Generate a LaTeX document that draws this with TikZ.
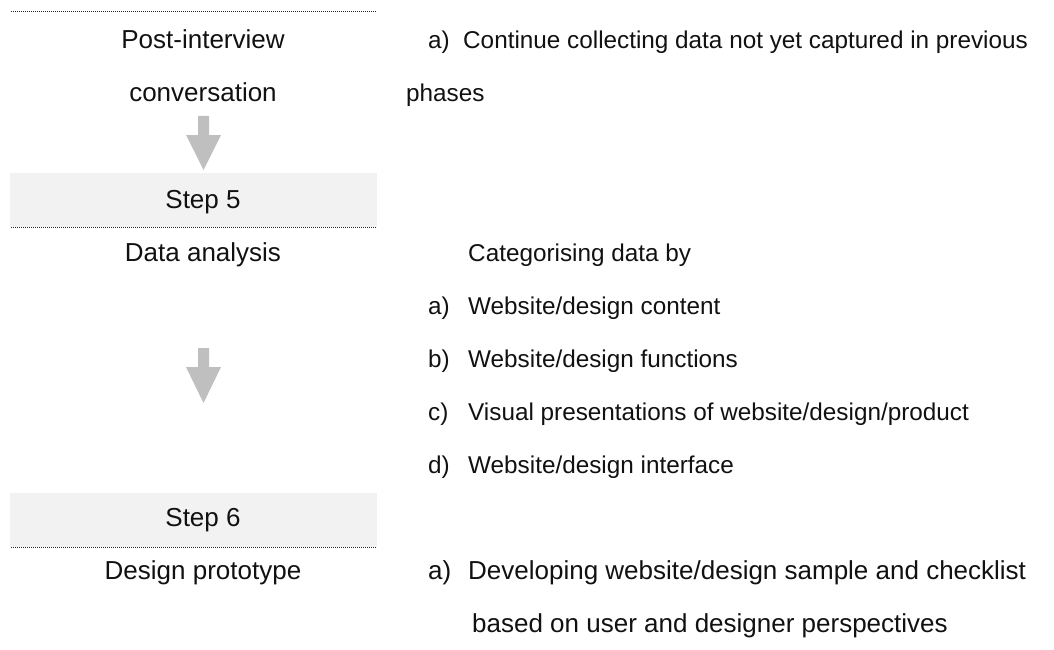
\documentclass[tikz,border=0pt]{standalone}
\usepackage{fontspec}
\setmainfont{Liberation Sans}
\definecolor{boxfill}{HTML}{F2F2F2}
\definecolor{arrowgray}{HTML}{BFBFBF}
\definecolor{txt}{HTML}{111111}
\tikzset{
  lefttext/.style={anchor=base, inner sep=0pt, font=\fontsize{26}{30}\selectfont, text=txt},
  righttext/.style={anchor=base west, inner sep=0pt, font=\fontsize{24.3}{28}\selectfont, text=txt},
  rightlarge/.style={righttext, font=\fontsize{26}{30}\selectfont},
  stepbox/.style={fill=boxfill, draw=none},
  dotline/.style={draw=black!85, line width=1pt, dash pattern=on 1pt off 1pt},
  blockarrow/.style={fill=arrowgray, draw=none}
}
\newcommand{\itemlbl}[2]{\makebox[40pt][l]{#1}#2}
\begin{document}
\begin{tikzpicture}[x=1pt,y=-1pt]
\useasboundingbox (0,0) rectangle (1054,650);
% step boxes
\fill[stepbox] (10,173) rectangle (377,227);
\fill[stepbox] (10,493) rectangle (377,547);
% dotted separators
\draw[dotline] (11,12) -- (377,12);
\draw[dotline] (11,227) -- (377,227);
\draw[dotline] (11,547) -- (377,547);
% left column
\node[lefttext] (post1) at (203,49) {Post-interview};
\node[lefttext] (post2) at (203,102) {conversation};
\node[lefttext] (step5) at (203,208) {Step 5};
\node[lefttext] (data) at (203,261) {Data analysis};
\node[lefttext] (step6) at (203,526) {Step 6};
\node[lefttext] (proto) at (203,579) {Design prototype};
% block arrows
\coordinate (a1) at (203.5,116);
\fill[blockarrow] ([xshift=-5.5pt]a1) -- ([xshift=5.5pt]a1) -- ([xshift=5.5pt,yshift=-19pt]a1) -- ([xshift=17.5pt,yshift=-19pt]a1) -- ([yshift=-54pt]a1) -- ([xshift=-17.5pt,yshift=-19pt]a1) -- ([xshift=-5.5pt,yshift=-19pt]a1) -- cycle;
\coordinate (a2) at (203.5,348);
\fill[blockarrow] ([xshift=-5.5pt]a2) -- ([xshift=5.5pt]a2) -- ([xshift=5.5pt,yshift=-19pt]a2) -- ([xshift=17.5pt,yshift=-19pt]a2) -- ([yshift=-55pt]a2) -- ([xshift=-17.5pt,yshift=-19pt]a2) -- ([xshift=-5.5pt,yshift=-19pt]a2) -- cycle;
% right column
\node[righttext] (r1) at (428,49) {\makebox[35pt][l]{a)}Continue collecting data not yet captured in previous};
\node[righttext] (r2) at (406,102) {phases};
\node[righttext] (r3) at (468,261) {Categorising data by};
\node[righttext] (r4) at (428,314) {\itemlbl{a)}{Website/design content}};
\node[righttext] (r5) at (428,367) {\itemlbl{b)}{Website/design functions}};
\node[righttext] (r6) at (428,420) {\itemlbl{c)}{Visual presentations of website/design/product}};
\node[righttext] (r7) at (428,473) {\itemlbl{d)}{Website/design interface}};
\node[rightlarge] (r8) at (428,579) {\itemlbl{a)}{Developing website/design sample and checklist}};
\node[rightlarge] (r9) at (472,632) {based on user and designer perspectives};
\end{tikzpicture}
\end{document}
